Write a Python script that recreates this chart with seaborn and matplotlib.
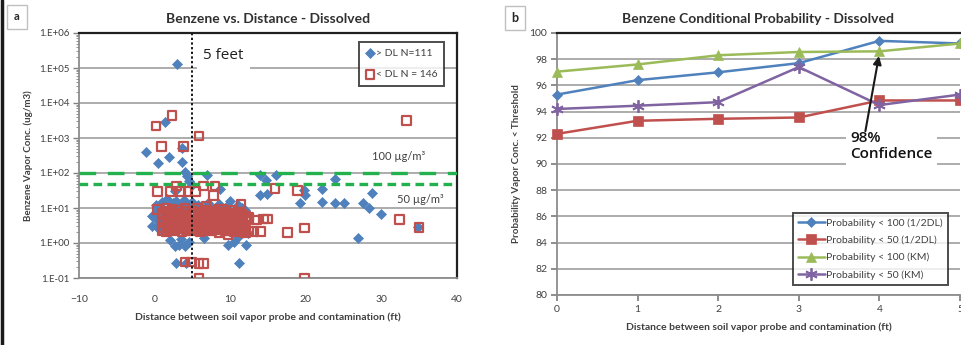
import numpy as np
import pandas as pd
import matplotlib
matplotlib.use("Agg")
import matplotlib.pyplot as plt
from matplotlib.lines import Line2D
from matplotlib.ticker import FuncFormatter, LogLocator, FixedLocator
import seaborn as sns

# ---------------- data: panel a ----------------
blue_x = [2.9, 1.4, -1.2, 0.5, 1.9, 3.6, 3.6, 4.0, 4.3, 6.9, 8.6, 13.9, 14.8, 16.1, 13.9, 14.9,
          19.2, 19.8, 19.9, 22.1, 22.1, 23.9, 23.9, 25.0, 27.5, 28.8, 28.4, 29.9, 26.9, 34.9,
          9.75, 12.05, 11.1, 2.8, 4.1, 2.7, 4.0, 3.2, 6.6, 11.0, 12.3, 0.3, 0.5, 0.7, 2.7, 4.5,
          5.0, 2.0, 3.5, 4.5, 10.5,
          -0.3, 0.2, 0.6, 1.0, 1.3, 1.7, 2.1, 2.4, 2.8, 3.1, 3.5, 3.9, 4.2, 4.6, 5.0, 5.4, 5.8,
          6.2, 6.6, 7.0, 7.5, 8.0, 8.5, 9.0, 9.5, 10.0, 10.5, 11.0, 11.5, 12.0,
          -0.3, 0.2, 0.6, 1.0, 1.3, 1.7, 2.1, 2.4, 2.8, 3.1, 3.5, 3.9, 4.2, 4.6, 5.0, 5.4, 5.8,
          6.2, 6.6, 7.0, 7.5, 8.0, 8.5, 9.0, 9.5, 10.0, 10.5, 11.0, 11.5, 12.0]
blue_y = [1.3e5, 2800, 400, 190, 280, 520, 200, 110, 80, 87, 35, 88, 63, 88, 24, 25,
          13.5, 33, 23, 35, 15, 68, 13.5, 13.5, 13.5, 27, 10, 6.6, 1.4, 2.8,
          0.87, 0.87, 0.26, 0.27, 0.27, 0.8, 0.8, 0.9, 1.35, 1.5, 1.9, 8, 4.8, 3.5, 30, 60,
          45, 1.2, 1.3, 1.1, 1.1,
          6, 12, 10, 15, 9, 18, 11, 14, 16, 12, 8, 17, 13, 10, 15, 9, 12,
          11, 8, 14, 10, 9, 13, 7, 11, 16, 8, 12, 10, 9,
          3, 5, 2.5, 4, 6, 3.5, 5.5, 2.8, 4.5, 3, 6.5, 2.2, 5, 3.8, 4.2, 2.6, 5.8,
          3.2, 4.8, 2.4, 5.2, 3.6, 2.9, 4.4, 3.1, 5.6, 2.7, 3.4, 4.6, 2.3]

red_x = [0.2, 2.3, 0.9, 3.8, 5.9, 33.3, 2.9, 0.4, 2.1, 3.4, 4.4, 5.4, 6.5, 8.0, 7.8, 15.9, 18.9,
         0.3, 8.4, 11.4, 32.4, 35.0, 19.8, 17.6, 13.1, 14.0, 9.7, 13.5, 14.4, 14.9,
         4.0, 4.9, 5.9, 6.5, 5.9, 19.8, 1.5, 6.8,
         1.0, 1.2, 1.5, 1.8, 2.0, 2.3, 2.6, 3.0, 3.3, 3.6, 4.0, 4.3, 4.6, 5.0, 5.3, 5.6, 6.0, 6.3,
         6.6, 7.0, 7.3, 7.6, 8.0, 8.3, 8.6, 9.0, 9.3, 9.6, 10.0, 10.3, 10.6, 11.0, 11.3, 11.6, 12.0, 12.5,
         1.0, 1.2, 1.5, 1.8, 2.0, 2.3, 2.6, 3.0, 3.3, 3.6, 4.0, 4.3, 4.6, 5.0, 5.3, 5.6, 6.0, 6.3,
         6.6, 7.0, 7.3, 7.6, 8.0, 8.3, 8.6, 9.0, 9.3, 9.6, 10.0, 10.3, 10.6, 11.0, 11.3, 11.6, 12.0, 12.5,
         1.0, 1.2, 1.5, 1.8, 2.0, 2.3, 2.6, 3.0, 3.3, 3.6, 4.0, 4.3, 4.6, 5.0, 5.3, 5.6, 6.0, 6.3,
         6.6, 7.0, 7.3, 7.6, 8.0, 8.3, 8.6, 9.0, 9.3, 9.6, 10.0, 10.3, 10.6, 11.0, 11.3, 11.6, 12.0, 12.5]
red_y = [2200, 4400, 580, 580, 1150, 3150, 42, 30, 30, 30, 30, 30, 42, 42, 23, 36, 32,
         9, 9, 13, 4.7, 2.8, 2.7, 2.0, 2.1, 2.1, 1.7, 4.6, 4.8, 4.8,
         0.29, 0.29, 0.26, 0.26, 0.1, 0.1, 10, 11,
         7, 6.5, 8, 6, 7.5, 9, 6.8, 8.5, 7, 6.2, 9.5, 7.8, 6.5, 8.2, 7, 10, 6.4, 7.6,
         8.8, 6.9, 7.3, 6.1, 8, 7.1, 6.6, 9.1, 7.4, 6.3, 8.4, 6.8, 7.2, 6, 7.7, 6.5, 5.8, 5.5,
         4.2, 3.8, 4.8, 3.5, 4.5, 4, 5.2, 3.7, 4.6, 4.1, 3.9, 5, 4.3, 3.6, 4.7, 4.4, 3.8, 5.1,
         4, 4.9, 3.7, 4.2, 4.6, 3.9, 5.3, 4.1, 4.5, 3.6, 4.8, 4.2, 3.9, 4.4, 4.7, 4, 4.3, 4.9,
         2.3, 2.8, 2.1, 2.6, 2.4, 3, 2.2, 2.7, 2.5, 2.1, 2.9, 2.3, 2.6, 2.2, 2.8, 2.4, 2.1, 2.7,
         2.3, 2.5, 2.9, 2.2, 2.6, 2.4, 2.0, 2.8, 2.3, 2.5, 2.2, 2.7, 2.1, 2.4, 2.6, 2.3, 2.0, 2.2]

thresholds = [100, 50]
a_yticks = [0.1, 1, 10, 100, 1e3, 1e4, 1e5, 1e6]
a_xticks = [-10, 0, 10, 20, 30, 40]

# ---------------- data: panel b ----------------
b_x = [0, 1, 2, 3, 4, 5]
p100_half = [95.3, 96.4, 97.0, 97.7, 99.4, 99.2]
p50_half = [92.3, 93.3, 93.45, 93.55, 94.85, 94.85]
p100_km = [97.05, 97.6, 98.3, 98.55, 98.6, 99.2]
p50_km = [94.2, 94.45, 94.72, 97.4, 94.5, 95.3]
b_labels = ["Probability < 100 (1/2DL)", "Probability < 50 (1/2DL)",
            "Probability < 100 (KM)", "Probability < 50 (KM)"]

sns.set_theme(style="white")
plt.rcParams['font.family'] = ['Lato', 'DejaVu Sans']

BLUE = '#4f81bd'
RED = '#c0504d'
GREEN = '#9bbb59'
PURPLE = '#8064a2'
GRID = '#a6a6a6'

fig = plt.figure(figsize=(9.61, 3.45), dpi=100)

# ======== panel a ========
ax1 = fig.add_axes([79/961, 1-278/345, 378/961, 245/345])
dfb = pd.DataFrame({'x': blue_x, 'y': blue_y})
dfr = pd.DataFrame({'x': red_x, 'y': red_y})
ax1.set_yscale('log')
for v in a_yticks:
    ax1.axhline(v, color=GRID, lw=1.3, zorder=0)
sns.scatterplot(data=dfb, x='x', y='y', ax=ax1, marker='D', s=26, color=BLUE,
                edgecolor=BLUE, linewidth=0.5, label='> DL N=111', zorder=3)
sns.scatterplot(data=dfr, x='x', y='y', ax=ax1, marker='s', s=38, facecolor='none',
                edgecolor=RED, linewidth=1.6, label='< DL N = 146', zorder=4)
ax1.axhline(thresholds[0], color='#22b14c', lw=2.4, ls=(0, (5, 3.5)), zorder=5)
ax1.axhline(thresholds[1], color='#22b14c', lw=2.4, ls=(0, (2.6, 1.6)), zorder=5)
ax1.axvline(5, color='k', lw=1.4, ls=(0, (1.2, 1.2)), zorder=6)
ax1.set_xlim(-10, 40)
ax1.set_ylim(0.1, 1e6)
ax1.xaxis.set_major_locator(FixedLocator(a_xticks))
ax1.yaxis.set_major_locator(FixedLocator(a_yticks))
ax1.yaxis.set_minor_locator(LogLocator(base=10, subs=np.arange(2, 10), numticks=20))
ax1.yaxis.set_major_formatter(FuncFormatter(lambda v, p: "1.E%+03d" % int(round(np.log10(v)))))
ax1.yaxis.set_minor_formatter(FuncFormatter(lambda v, p: ""))
ax1.tick_params(axis='y', which='major', left=True, length=4, width=1, color='#808080',
                labelsize=7, labelcolor='#404040', pad=3)
ax1.tick_params(axis='y', which='minor', left=True, length=2, width=0.6, color='#808080')
ax1.tick_params(axis='x', bottom=False, labelsize=7.5, labelcolor='#404040', pad=6)
for s in ['top', 'right']:
    ax1.spines[s].set_color('#202020')
    ax1.spines[s].set_linewidth(1.6)
for s in ['left', 'bottom']:
    ax1.spines[s].set_color('#8c8c8c')
    ax1.spines[s].set_linewidth(1.3)
ax1.set_title("Benzene vs. Distance - Dissolved", fontsize=10, fontweight='bold',
              color='#303030', pad=7)
ax1.set_xlabel("Distance between soil vapor probe and contamination (ft)", fontsize=7.5,
               fontweight='bold', color='#404040', labelpad=6)
ax1.set_ylabel("Benzene Vapor Conc. (ug/m3)", fontsize=7, fontweight='bold',
               color='#404040', labelpad=4)
ax1.text(6.4, 2.3e5, "5 feet", fontsize=11, va='center', ha='left', color='#202020',
         family=['Open Sans', 'DejaVu Sans'],
         bbox=dict(boxstyle='square,pad=0.4', fc='white', ec='none'), zorder=7)
ax1.text(28.8, 290, "100 µg/m³", fontsize=8, va='center', ha='left', color='#404040')
ax1.text(32.1, 18, "50 µg/m³", fontsize=8, va='center', ha='left', color='#404040')
leg1 = ax1.legend(loc='upper right', bbox_to_anchor=(0.966, 0.963), fontsize=7.5,
                  frameon=True, fancybox=False, handletextpad=0.1, borderpad=0.6,
                  labelspacing=1.2, handlelength=1.0, borderaxespad=0)
leg1.get_frame().set_edgecolor('#202020')
leg1.get_frame().set_linewidth(1.4)
for t in leg1.get_texts():
    t.set_color('#404040')

# ======== panel b ========
ax2 = fig.add_axes([557/961, 1-295/345, 403/961, 262/345])
for v in range(80, 101, 2):
    ax2.axhline(v, color=GRID, lw=1.3, zorder=0)
series = [(p100_half, BLUE, 'D', 5), (p50_half, RED, 's', 7),
          (p100_km, GREEN, '^', 7), (p50_km, PURPLE, (6, 2, 0), 9)]
for (vals, col, mk, ms), lab in zip(series, b_labels):
    d = pd.DataFrame({'x': b_x, 'y': vals})
    sns.lineplot(data=d, x='x', y='y', ax=ax2, color=col, lw=1.8, marker=mk, markersize=ms,
                 markeredgecolor=col, markeredgewidth=1.3 if mk == (6, 2, 0) else 0.5,
                 label=lab, zorder=3, clip_on=False)
ax2.set_xlim(0, 5)
ax2.set_ylim(80, 100)
ax2.set_xticks(b_x)
ax2.set_yticks(list(range(80, 101, 2)))
ax2.tick_params(axis='x', bottom=True, length=4, color='#808080', labelsize=7.5,
                labelcolor='#404040', pad=3)
ax2.tick_params(axis='y', left=True, length=4, color='#808080', labelsize=7.5,
                labelcolor='#404040', pad=3)
ax2.spines['top'].set_color('#202020')
ax2.spines['top'].set_linewidth(1.6)
ax2.spines['right'].set_visible(False)
for s in ['left', 'bottom']:
    ax2.spines[s].set_color('#8c8c8c')
    ax2.spines[s].set_linewidth(1.3)
ax2.set_title("Benzene Conditional Probability - Dissolved", fontsize=10, fontweight='bold',
              color='#303030', pad=7)
ax2.set_xlabel("Distance between soil vapor probe and contamination (ft)", fontsize=7.5,
               fontweight='bold', color='#404040', labelpad=6)
ax2.set_ylabel("Probability Vapor Conc. < Threshold", fontsize=7, fontweight='bold',
               color='#404040', labelpad=6)
ax2.annotate('', xy=(4.0, 98.45), xytext=(3.82, 92.3),
             arrowprops=dict(arrowstyle='-|>', lw=1.5, color='k', mutation_scale=12),
             zorder=8)
ax2.text(3.64, 92.55, "98%\nConfidence", fontsize=11, va='top', ha='left', color='#111111',
         family=['Open Sans', 'DejaVu Sans'], fontweight='semibold', linespacing=1.25,
         bbox=dict(boxstyle='square,pad=0.3', fc='white', ec='none'), zorder=7)
leg2 = ax2.legend(loc='lower right', bbox_to_anchor=(0.97, 0.038), fontsize=7.5,
                  frameon=True, fancybox=False, handlelength=2.6, handletextpad=0.1,
                  borderpad=0.5, labelspacing=0.75, borderaxespad=0)
leg2.get_frame().set_edgecolor('#202020')
leg2.get_frame().set_linewidth(1.4)
for t in leg2.get_texts():
    t.set_color('#404040')

# panel letters
fig.text(17/961, 1-17/345, "a", fontsize=8, fontweight='bold', ha='center', va='center',
         bbox=dict(boxstyle='square,pad=0.6', fc='white', ec='#c0c0c0', lw=1))
fig.text(515/961, 1-18/345, "b", fontsize=9, fontweight='bold', ha='center', va='center',
         bbox=dict(boxstyle='square,pad=0.5', fc='white', ec='#c0c0c0', lw=1))
fig.add_artist(Line2D([2/961, 2/961], [0, 1], color='k', lw=2.5, transform=fig.transFigure))

fig.savefig("out.png", dpi=100)
